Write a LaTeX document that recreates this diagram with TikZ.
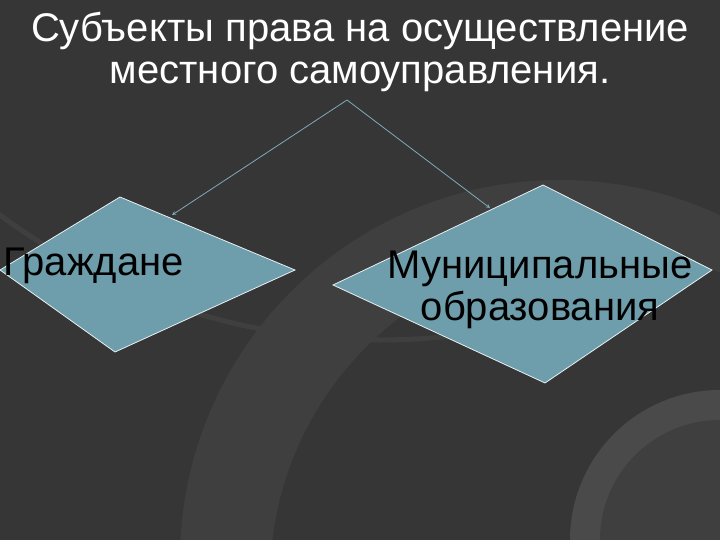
\documentclass[tikz,border=0pt]{standalone}
\usepackage{fontspec}
\setmainfont{Liberation Sans}
\begin{document}
\begin{tikzpicture}[x=1pt,y=-1pt,
  dia/.style={fill=diafill,draw=white!85!diafill,line width=0.8pt},
  lbl/.style={text=black,font=\fontsize{40}{42}\selectfont,align=center},
  conn/.style={draw=arrowc,line width=0.8pt,-stealth}]
\definecolor{bg}{HTML}{363636}
\definecolor{arc1}{HTML}{3F3F3F}
\definecolor{arc2}{HTML}{4A4A4A}
\definecolor{diafill}{HTML}{6E9DAC}
\definecolor{arrowc}{HTML}{7FAAB8}
\useasboundingbox (0,0) rectangle (720,540);
\fill[bg] (0,0) rectangle (720,540);
\begin{scope}
\clip (0,0) rectangle (720,540);
\fill[arc1] (560,560) circle (380);
\fill[bg] (600,580) circle (330);
\fill[arc2] (720,540) circle (150);
\fill[arc1] (720,540) circle (120);
\draw[arc1,line width=5pt] (380,-300) circle (640);
\end{scope}
\node[text=white,font=\fontsize{40}{42}\selectfont,align=center] (title) at (360,52)
 {Субъекты права на осуществление\\местного самоуправления.};
\coordinate (src) at (347,100);
\path[dia] (0,270) -- (120,197) -- (295,270) -- (115,352) -- cycle;
\path[dia] (333,285) -- (543,185) -- (712,270) -- (545,383) -- cycle;
\node[lbl,anchor=west,inner sep=0] (g) at (3,266) {Граждане};
\node[lbl] (m) at (540,290) {Муниципальные\\образования};
\coordinate (lt) at (172,215);
\coordinate (rt) at (490,208);
\draw[conn] (src) -- (lt);
\draw[conn] (src) -- (rt);
\end{tikzpicture}
\end{document}
